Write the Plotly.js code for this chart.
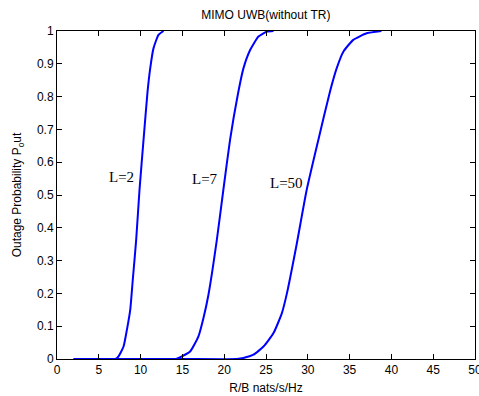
<!DOCTYPE html>
<html>
<head>
<meta charset="utf-8">
<script src="https://cdn.plot.ly/plotly-3.0.1.min.js"></script>
<style>html,body{margin:0;padding:0;background:#fff;}#chart{width:479px;height:396px;}</style>
</head>
<body>
<div id="chart"></div>
<script>
// L=2 curve
const x_L2 = [2, 5, 7.0, 7.36, 7.96, 8.36, 8.76, 9.06, 9.47, 9.87, 10.35, 10.83, 11.15, 11.54, 12.14, 12.74];
const p_L2 = [0, 0, 0, 0.008, 0.038, 0.089, 0.15, 0.24, 0.363, 0.516, 0.668, 0.815, 0.886, 0.947, 0.988, 1.0];
// L=7 curve
const x_L7 = [2, 10, 14.2, 14.93, 15.93, 16.92, 17.52, 18.11, 19.12, 19.9, 20.7, 21.62, 22.3, 23.1, 24.1, 25.1, 25.9];
const p_L7 = [0, 0, 0, 0.008, 0.023, 0.069, 0.125, 0.195, 0.363, 0.516, 0.668, 0.805, 0.886, 0.942, 0.983, 0.998, 1.0];
// L=50 curve
const x_L50 = [2, 15, 21.5, 22.3, 23.5, 24.7, 25.9, 26.9, 27.5, 28.67, 29.87, 31.26, 32.65, 33.45, 34.25, 35.44, 37.04, 38.8];
const p_L50 = [0, 0, 0, 0.003, 0.013, 0.038, 0.079, 0.14, 0.20, 0.35, 0.516, 0.668, 0.815, 0.886, 0.937, 0.973, 0.993, 1.0];

const labelText = ["L=2", "L=7", "L=50"];
const labelX = [7.7, 17.66, 27.43];
const labelY = [0.556, 0.549, 0.536];

const xTicks = [0, 5, 10, 15, 20, 25, 30, 35, 40, 45, 50];
const yTicks = [0, 0.1, 0.2, 0.3, 0.4, 0.5, 0.6, 0.7, 0.8, 0.9, 1];

const series = [[x_L2, p_L2], [x_L7, p_L7], [x_L50, p_L50]];
const traces = series.map(([xs, ys]) => ({
  x: xs, y: ys, mode: 'lines', hoverinfo: 'skip',
  line: {color: '#0000ff', width: 2, shape: 'spline', smoothing: 0.5}
}));

const sans = 'Liberation Sans, Arial, sans-serif';
const layout = {
  width: 479, height: 396,
  margin: {l: 57, r: 4, t: 31, b: 37},
  paper_bgcolor: '#fff', plot_bgcolor: '#fff',
  showlegend: false,
  title: {text: 'MIMO UWB(without TR)', font: {family: sans, size: 12, color: '#000'}, x: 0.555, xanchor: 'center', y: 0.962, yanchor: 'middle'},
  xaxis: {
    range: [0, 50], tickvals: xTicks, ticktext: xTicks.map(String),
    ticks: 'inside', ticklen: 5, tickcolor: '#000', mirror: 'ticks',
    showline: true, linecolor: '#000', linewidth: 1, showgrid: false, zeroline: false,
    ticklabeloverflow: 'allow',
    tickfont: {family: sans, size: 12, color: '#000'},
    title: {text: 'R/B nats/s/Hz', font: {family: sans, size: 12, color: '#000'}, standoff: 7}
  },
  yaxis: {
    range: [0, 1], tickvals: yTicks, ticktext: yTicks.map(String),
    ticks: 'inside', ticklen: 5, tickcolor: '#000', mirror: 'ticks',
    showline: true, linecolor: '#000', linewidth: 1, showgrid: false, zeroline: false,
    ticklabeloverflow: 'allow',
    tickfont: {family: sans, size: 12, color: '#000'},
    title: {text: 'Outage Probability P<sub>o</sub>ut', font: {family: sans, size: 12, color: '#000'}, standoff: 12}
  },
  annotations: labelText.map((t, i) => ({
    x: labelX[i], y: labelY[i], xref: 'x', yref: 'y', text: t, showarrow: false,
    font: {family: 'Liberation Serif, Times New Roman, serif', size: 15, color: '#000'}
  }))
};

Plotly.newPlot('chart', traces, layout, {displayModeBar: false, staticPlot: true});
</script>
</body>
</html>
